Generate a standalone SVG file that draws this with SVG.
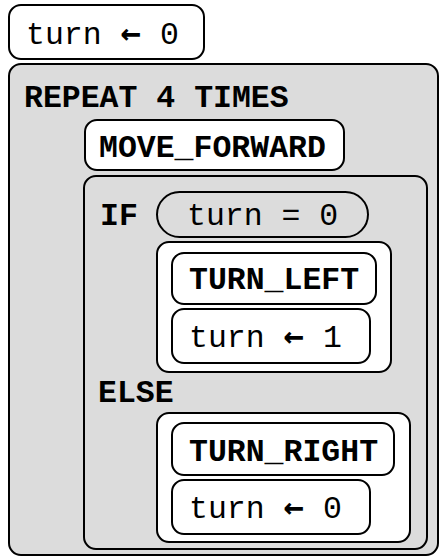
<svg xmlns="http://www.w3.org/2000/svg" width="440" height="557" viewBox="0 0 440 557">
<style>
.box{stroke:#000;stroke-width:2}
.w{fill:#fff}
.g{fill:#dcdcdc}
text{font-family:"Liberation Mono","Courier New",monospace;font-size:31.5px;fill:#000}
.b{font-weight:bold}
.ar{font-family:"DejaVu Sans Mono","Liberation Mono",monospace;font-weight:bold;font-size:34px}
</style>
<rect width="440" height="557" fill="#fff"/>
<g id="init">
<rect class="box w" x="9" y="5" width="195" height="54" rx="12"/>
<text x="26" y="44">turn <tspan class="ar">←</tspan> 0</text>
</g>
<g id="repeat">
<rect class="box g" x="9" y="64" width="429" height="491" rx="12"/>
<text class="b" x="24" y="107">REPEAT 4 TIMES</text>
</g>
<g id="move">
<rect class="box w" x="85" y="120" width="259" height="50" rx="12"/>
<text class="b" x="99" y="157">MOVE_FORWARD</text>
</g>
<g id="if">
<rect class="box g" x="84" y="176" width="343" height="373" rx="12"/>
<text class="b" x="100" y="225">IF</text>
<text class="b" x="98" y="402">ELSE</text>
</g>
<g id="cond">
<rect class="box g" x="157" y="192" width="211" height="45" rx="22.5"/>
<text x="187" y="225">turn = 0</text>
</g>
<g id="thenbody">
<rect class="box w" x="157" y="242" width="234" height="130" rx="12"/>
</g>
<g id="turnleft">
<rect class="box w" x="172" y="253" width="204" height="51" rx="12"/>
<text class="b" x="189" y="289">TURN_LEFT</text>
</g>
<g id="set1">
<rect class="box w" x="172" y="309" width="198" height="54" rx="12"/>
<text x="189" y="347">turn <tspan class="ar">←</tspan> 1</text>
</g>
<g id="elsebody">
<rect class="box w" x="157" y="413" width="253" height="129" rx="12"/>
</g>
<g id="turnright">
<rect class="box w" x="172" y="423" width="222" height="52" rx="12"/>
<text class="b" x="189" y="461">TURN_RIGHT</text>
</g>
<g id="set0">
<rect class="box w" x="172" y="480" width="198" height="54" rx="12"/>
<text x="189" y="518">turn <tspan class="ar">←</tspan> 0</text>
</g>
<g id="connectors"></g>
</svg>
